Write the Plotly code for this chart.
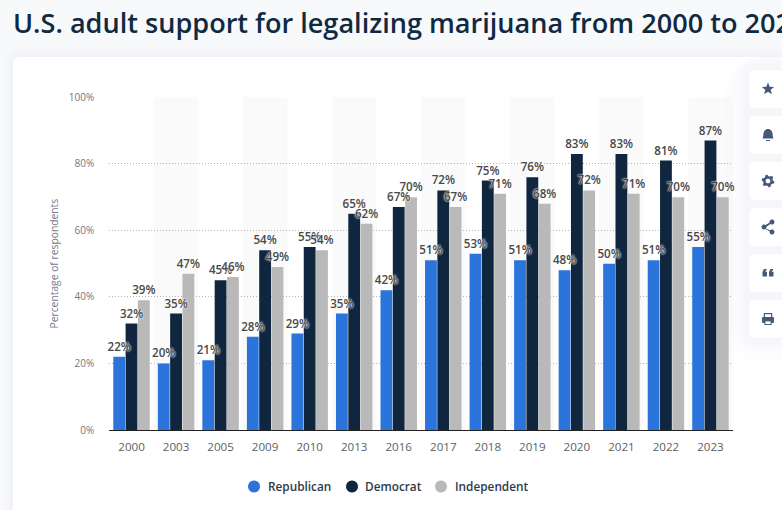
import math
import plotly.graph_objects as go

years = ["2000","2003","2005","2009","2010","2013","2016","2017","2018","2019","2020","2021","2022","2023"]
republican = [22,20,21,28,29,35,42,51,53,51,48,50,51,55]
democrat = [32,35,45,54,55,65,67,72,75,76,83,83,81,87]
independent = [39,47,46,49,54,62,70,67,71,68,72,71,70,70]
y_ticks = [0,20,40,60,80,100]
y_labels = ["0%","20%","40%","60%","80%","100%"]
series = [("Republican", republican, "#2a74dc"), ("Democrat", democrat, "#10263f"), ("Independent", independent, "#b9b9b9")]

W, H = 782, 510
L, R, T, B = 109.25, 732.75, 97, 430
FONT = "Open Sans"

def X(x): return round(x / W, 5)
def Y(y): return round(1 - y / H, 5)

def poly(points):
    return "M" + " L".join(f"{X(x)},{Y(y)}" for x, y in points) + " Z"

def rrect(x0, y0, x1, y1, r):
    pts = []
    for cx, cy, a0 in [(x1-r, y0+r, -90), (x1-r, y1-r, 0), (x0+r, y1-r, 90), (x0+r, y0+r, 180)]:
        for k in range(7):
            a = math.radians(a0 + k * 15)
            pts.append((cx + r * math.cos(a), cy + r * math.sin(a)))
    return poly(pts)

def circle(cx, cy, r, n=24):
    return poly([(cx + r*math.cos(2*math.pi*k/n), cy + r*math.sin(2*math.pi*k/n)) for k in range(n)])

shapes = []
def add(path, fill, opacity=1, layer="below"):
    shapes.append(dict(type="path", xref="paper", yref="paper", path=path, fillcolor=fill,
                       opacity=opacity, line=dict(width=0), layer=layer))

# card shadow + card (the card runs on past the right edge of the window)
for d, o in [(10, .012), (6, .015), (3, .02)]:
    add(rrect(13-d, 57-d, 900, 530, 8+d), "#5b6b85", o)
add(rrect(13, 57, 900, 530, 6), "#ffffff")

# alternating bands
for i in range(1, len(years), 2):
    shapes.append(dict(type="rect", xref="x", yref="paper", x0=i-.5, x1=i+.5, y0=Y(B), y1=Y(T),
                       fillcolor="#fafafa", line=dict(width=0), layer="below"))

# side buttons
ICON = "#46597a"
tops = [70, 116, 162, 208, 254, 300]
for d, o in [(3, .012), (6, .012), (10, .01), (14, .008), (18, .006), (22, .004), (26, .003)]:
    add(rrect(749-d, max(57, 70-d), 900, 338+d, 10+d), "#5b6b85", o)
for t in tops:
    add(rrect(749, t, 800, t+38, 5), "#ffffff")

cx = 768
# star
c = tops[0] + 19
add(poly([(cx + (6.5 if k % 2 == 0 else 2.8)*math.sin(k*math.pi/5), c - (6.5 if k % 2 == 0 else 2.8)*math.cos(k*math.pi/5)) for k in range(10)]), ICON, layer="above")
# bell
c = tops[1] + 19
add(poly([(cx-5.5, c+3.5), (cx-4.8, c+1), (cx-4.5, c-2), (cx-3.4, c-4.5), (cx-1.2, c-6), (cx+1.2, c-6), (cx+3.4, c-4.5), (cx+4.5, c-2), (cx+4.8, c+1), (cx+5.5, c+3.5)]), ICON, layer="above")
add(poly([(cx-2, c+5), (cx+2, c+5), (cx+2, c+6), (cx-2, c+6)]), ICON, layer="above")
# gear
c = tops[2] + 19
add(poly([(cx + (6.4 if (k % 4) < 2 else 4.8)*math.cos(2*math.pi*(k+.5)/24), c + (6.4 if (k % 4) < 2 else 4.8)*math.sin(2*math.pi*(k+.5)/24)) for k in range(24)]), ICON, layer="above")
add(circle(cx, c, 2.4, 14), "#ffffff", layer="above")
# share
c = tops[3] + 19
add(poly([(cx+3.5, c-5.5), (cx+4.2, c-4.3), (cx-3.2, c+.9), (cx+4.2, c+4.3), (cx+3.5, c+5.5), (cx-4.6, c+.8), (cx-4.6, c-.8)]), ICON, layer="above")
for a, b, r in [(cx+4, c-5, 2.5), (cx+4, c+5, 2.5), (cx-4, c, 2.5)]:
    add(circle(a, b, r, 14), ICON, layer="above")
# quotes
c = tops[4] + 19
for o in (-5.5, 1):
    add(poly([(cx+o, c-1), (cx+o+1.5, c-4), (cx+o+4, c-4), (cx+o+4, c-3), (cx+o+2.6, c-1.2), (cx+o+4.5, c-1.2), (cx+o+4.5, c+3.5), (cx+o, c+3.5)]), ICON, layer="above")
# print
c = tops[5] + 19
add(rrect(cx-6, c-2, cx+6, c+4, 1), ICON, layer="above")
add(poly([(cx-4.2, c-6), (cx+4.2, c-6), (cx+4.2, c-2), (cx-4.2, c-2)]), ICON, layer="above")
add(poly([(cx-3, c-4.8), (cx+3, c-4.8), (cx+3, c-2), (cx-3, c-2)]), "#ffffff", layer="above")
add(poly([(cx-3.6, c+1.4), (cx+3.6, c+1.4), (cx+3.6, c+6), (cx-3.6, c+6)]), ICON, layer="above")
add(poly([(cx-2.6, c+2.4), (cx+2.6, c+2.4), (cx+2.6, c+5), (cx-2.6, c+5)]), "#ffffff", layer="above")

fig = go.Figure()
for name, vals, color in series:
    fig.add_bar(x=years, y=vals, name=name, marker=dict(color=color, line=dict(width=0)), showlegend=False,
                hoverinfo="skip")
# value labels sit on an overlaid pair of axes so that they stay above every bar
for name, vals, color in series:
    fig.add_bar(x=years, y=vals, name=name, xaxis="x2", yaxis="y2", showlegend=False,
                marker=dict(color="rgba(0,0,0,0)", line=dict(width=0)),
                text=[f"{v}%" for v in vals], textposition="outside", cliponaxis=False,
                constraintext="none", textangle=0,
                textfont=dict(family=FONT, size=11.6, color="#484848", weight=600,
                              shadow="0px 0px 2px #ffffff, 0px 0px 2px #ffffff"))

annotations = [
    dict(text="U.S. adult support for legalizing marijuana from 2000 to 2023", xref="paper", yref="paper",
         x=X(10.5), y=Y(22), xanchor="left", yanchor="middle", showarrow=False, align="left",
         font=dict(family=FONT, size=27.1, color="#0f2a43", weight=600)),
    dict(text="Percentage of respondents", xref="paper", yref="paper", x=X(54), y=Y(263.5),
         xanchor="center", yanchor="middle", textangle=-90, showarrow=False,
         font=dict(family=FONT, size=10.3, color="#7a7a8c")),
]
legend_items = [("Republican", 254, 266, "#2a74dc"), ("Democrat", 352, 363, "#10263f"), ("Independent", 441, 453, "#b9b9b9")]
for label, mx, tx, color in legend_items:
    add(circle(mx, 486.5, 6), color, layer="above")
    annotations.append(dict(text=label, xref="paper", yref="paper", x=X(tx), y=Y(486.5), xanchor="left",
                            yanchor="middle", showarrow=False,
                            font=dict(family=FONT, size=11.8, color="#2f3a4a", weight=600)))

bar_gaps = dict(barmode="group", bargap=0.17, bargroupgap=0.04)
fig.update_layout(
    width=W, height=H, autosize=False, margin=dict(l=0, r=0, t=0, b=0),
    paper_bgcolor="#f8f9fb", plot_bgcolor="rgba(0,0,0,0)",
    showlegend=False, hovermode=False,
    shapes=shapes, annotations=annotations,
    xaxis=dict(domain=[X(L), X(R)], type="category", showgrid=False, ticks="", showline=True, automargin=False,
               linecolor="#222222", linewidth=1, tickfont=dict(family=FONT, size=11.6, color="#5b5f66"),
               ticklabelstandoff=6, fixedrange=True),
    yaxis=dict(domain=[Y(B), Y(T)], range=[0, 100.1], tickmode="array", tickvals=y_ticks, ticktext=y_labels,
               automargin=False, gridcolor="#b5b5b5", griddash="1px,2px", gridwidth=1, zeroline=False, showline=False,
               tickfont=dict(family=FONT, size=10, color="#75757f"), ticks="", ticklabelstandoff=14, fixedrange=True),
    xaxis2=dict(overlaying="x", anchor="y2", type="category", matches="x", visible=False, fixedrange=True),
    yaxis2=dict(overlaying="y", anchor="x2", matches="y", visible=False, fixedrange=True),
    **bar_gaps,
)
fig.write_html("out.html", config=dict(displayModeBar=False),
               post_script="document.body.style.margin='0';document.documentElement.style.overflow='hidden';")
